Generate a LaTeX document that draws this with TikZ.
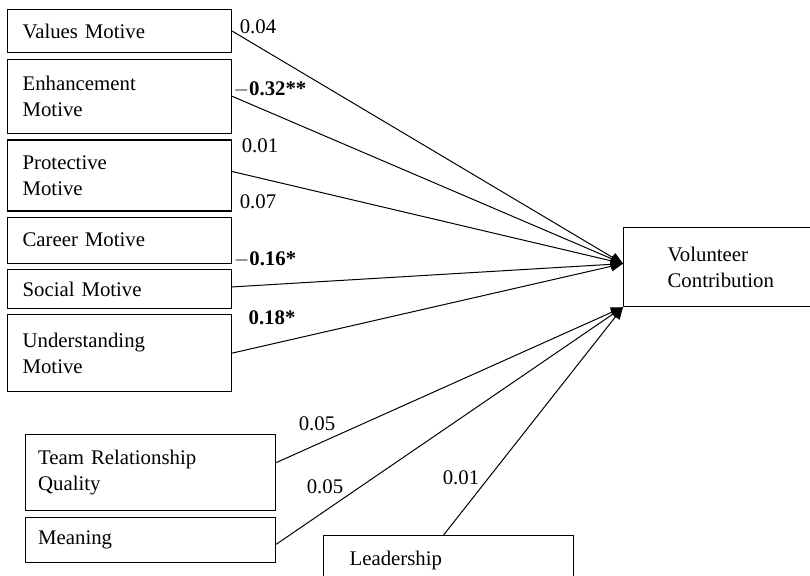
\documentclass[tikz,border=0pt]{standalone}
\usepackage{fontspec}
\setmainfont{Liberation Serif}
\usetikzlibrary{arrows.meta, positioning}

\tikzset{
   box/.style={draw, line width=0.6pt, rectangle, align=left, anchor=north west,
      font=\fontsize{10.4}{12.8}\selectfont},
   motive/.style={box, text width=97pt, inner xsep=7.5pt, minimum height=#1},
   effect/.style={line width=0.5pt, -{Triangle[length=6pt,width=5pt]}},
   coef/.style={font=\fontsize{10.4}{12.8}\selectfont, inner sep=0pt},
}

\begin{document}
\begin{tikzpicture}[x=0.5pt, y=-0.5pt]
            \useasboundingbox (0,0) rectangle (810,575);
            % Motive boxes (stacked)
            \node[motive=21.5pt] (values) at (7,9) {Values Motive};
            \node[motive=37pt, below=2.75pt of values] (enh) {Enhancement\\Motive};
            \node[motive=35.5pt, below=2.75pt of enh] (prot) {Protective\\Motive};
            \node[motive=23pt, below=2.5pt of prot] (career) {Career Motive};
            \node[motive=19.5pt, below=2.5pt of career] (social) {Social Motive};
            \node[motive=38.5pt, below=2.5pt of social] (under) {Understanding\\Motive};
            % Other predictors
            \node[box, text width=112.4pt, inner xsep=6.3pt, minimum height=38pt] (team) at (25,434)
               {Team Relationship\\Quality};
            \node[box, text width=112.4pt, inner xsep=6.3pt, minimum height=22.5pt, below=3pt of team] (mean)
               {Meaning};
            \node[box, text width=99pt, inner xsep=13pt, minimum height=25pt] (lead) at (323,535)
               {Leadership};
            % Outcome
            \node[box, text width=66pt, inner xsep=22pt, minimum height=39.5pt] (vol) at (623,227)
               {Volunteer\\Contribution};
            % Paths to the outcome
            \draw[effect] (values.east) -- ([yshift=1.75pt]vol.west);
            \draw[effect] (enh.east) -- ([yshift=1.75pt]vol.west);
            \draw[effect] ([yshift=2pt]prot.east) -- ([yshift=1.75pt]vol.west);
            \draw[effect] ([yshift=1pt]social.east) -- ([yshift=1.75pt]vol.west);
            \draw[effect] (under.east) -- ([yshift=1.75pt]vol.west);
            \draw[effect] ([yshift=5pt]team.east) -- (vol.south west);
            \draw[effect] ([yshift=-2pt]mean.east) -- (vol.south west);
            \draw[effect] ([xshift=-2.5pt]lead.north) -- (vol.south west);
            % Coefficients
            \node[coef] (b1) at (258,27) {0.04};
            \node[coef] (b2) at (270,89) {$-$\textbf{0.32**}};
            \node[coef] (b3) at (260,146) {0.01};
            \node[coef] (b4) at (258,202) {0.07};
            \node[coef] (b5) at (265,259) {$-$\textbf{0.16*}};
            \node[coef] (b6) at (272,318) {\textbf{0.18*}};
            \node[coef] (b7) at (317,424) {0.05};
            \node[coef] (b8) at (325,487) {0.05};
            \node[coef] (b9) at (461,478) {0.01};
         \end{tikzpicture}
\end{document}
